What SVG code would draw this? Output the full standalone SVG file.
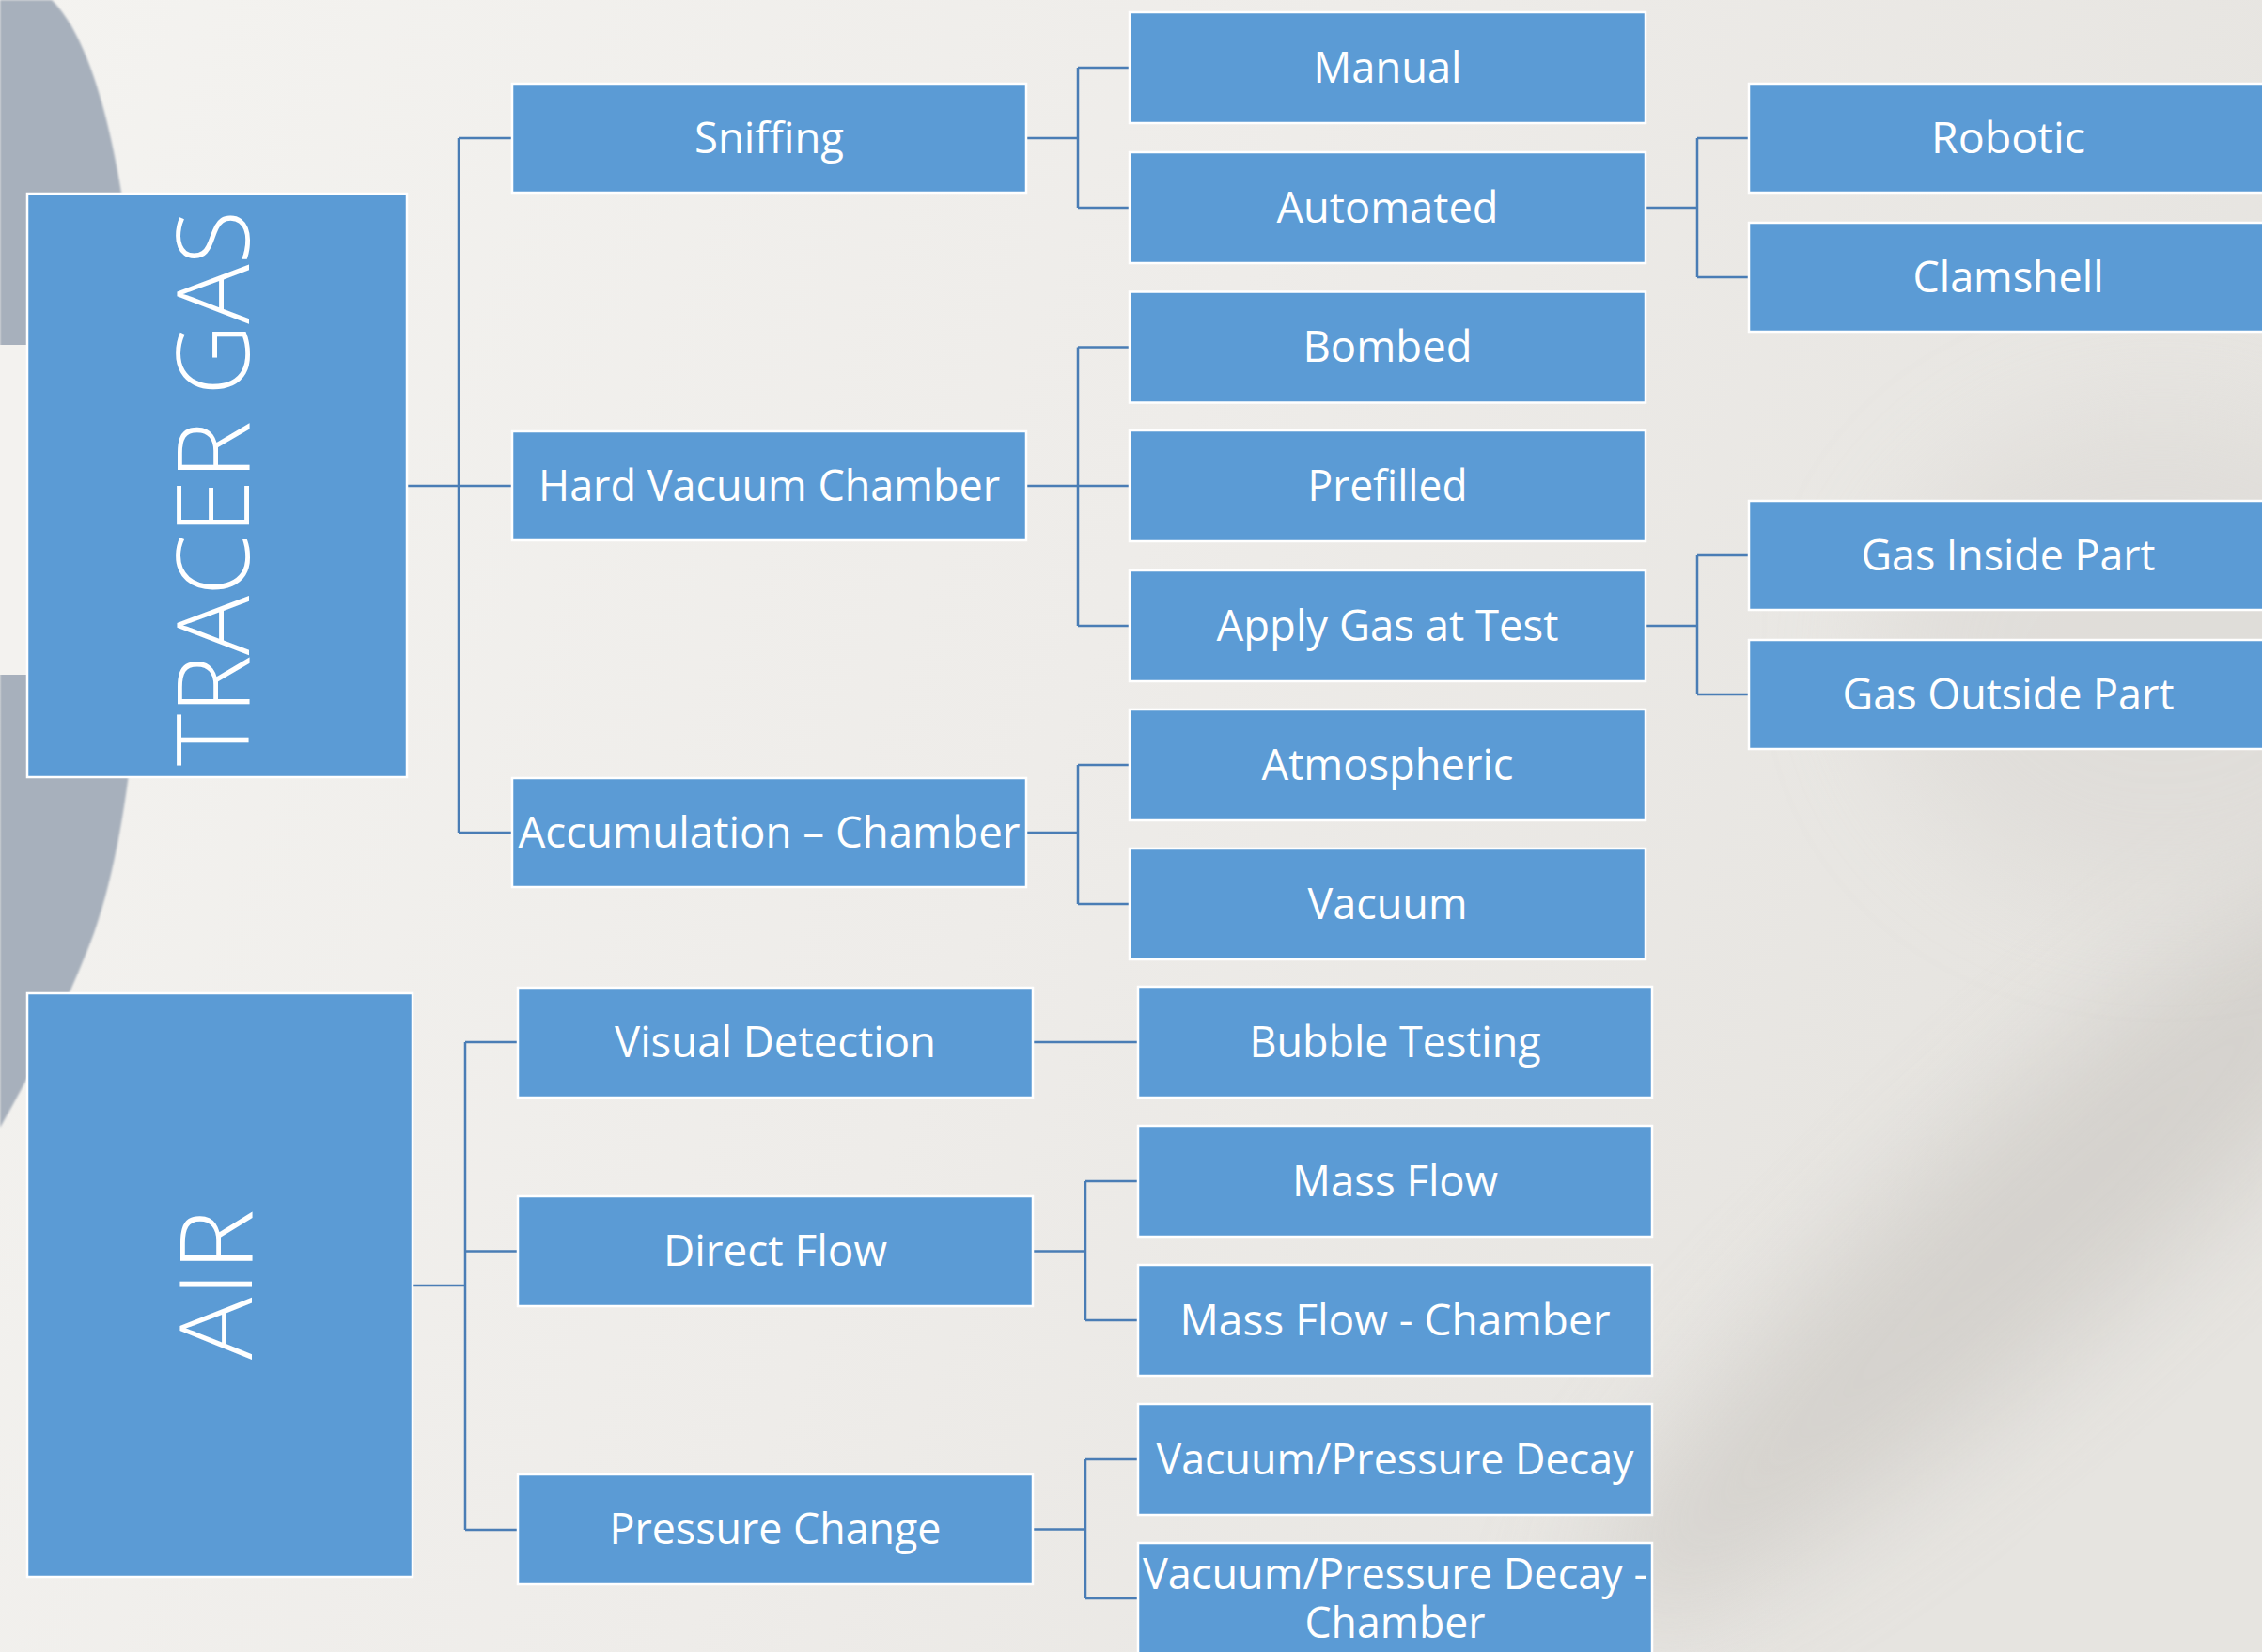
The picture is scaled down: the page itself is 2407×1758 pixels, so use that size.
<svg xmlns="http://www.w3.org/2000/svg" width="2407" height="1758" viewBox="0 0 2407 1758">
  <defs>
    <linearGradient id="bgGrad" x1="0" y1="0" x2="1" y2="0.3">
      <stop offset="0" stop-color="#f4f3f0"/>
      <stop offset="0.55" stop-color="#eeece9"/>
      <stop offset="1" stop-color="#e6e4e0"/>
    </linearGradient>
    <filter id="soft" x="-50%" y="-50%" width="200%" height="200%">
      <feGaussianBlur stdDeviation="60"/>
    </filter>
    <filter id="edge" x="-5%" y="-5%" width="110%" height="110%">
      <feGaussianBlur stdDeviation="1.2"/>
    </filter>
  </defs>
  <style>
    .box { fill: #5b9bd5; stroke: #ffffff; stroke-width: 2.5; }
    .lbl { font-family: "Open Sans", "Noto Sans", "Liberation Sans", sans-serif; font-size: 46px; fill: #ffffff; text-anchor: middle; }
    .big { font-family: "Open Sans", "Noto Sans", "Liberation Sans", sans-serif; font-size: 107px; font-weight: 300; fill: #ffffff; text-anchor: middle; }
    .link { fill: none; stroke: #4a7db5; stroke-width: 2.5; }
  </style>

  <!-- backdrop -->
  <rect x="0" y="0" width="2407" height="1758" fill="url(#bgGrad)"/>
  <ellipse cx="2180" cy="1290" rx="640" ry="120" transform="rotate(-42 2180 1290)" fill="#d2cfca" opacity="0.85" filter="url(#soft)"/>
  <ellipse cx="2300" cy="700" rx="300" ry="260" fill="#dcd9d5" opacity="0.6" filter="url(#soft)"/>
  <path d="M0 0 L55 0 C122 65 152 300 153 520 C154 700 140 880 100 993 C75 1060 40 1130 0 1200 Z" fill="#a7b0bc" filter="url(#edge)"/>
  <rect x="0" y="367" width="220" height="351" fill="#f3f2ef"/>

  <!-- connectors -->
  <g id="connectors" class="link">
    <path d="M433 517H545 M488 147V886 M488 147H545 M488 886H545"/>
    <path d="M1092 147H1147 M1147 72V221 M1147 72H1202 M1147 221H1202"/>
    <path d="M1092 517H1202 M1147 369.5V666 M1147 369.5H1202 M1147 666H1202"/>
    <path d="M1092 886H1147 M1147 814V962 M1147 814H1202 M1147 962H1202"/>
    <path d="M1751 221H1806 M1806 147V295 M1806 147H1861 M1806 295H1861"/>
    <path d="M1751 666H1806 M1806 591V739 M1806 591H1861 M1806 739H1861"/>
    <path d="M439 1368H495 M495 1109V1628 M495 1109H551 M495 1331.5H551 M495 1628H551"/>
    <path d="M1099 1109H1211"/>
    <path d="M1099 1331.5H1155 M1155 1257V1405 M1155 1257H1211 M1155 1405H1211"/>
    <path d="M1099 1627.5H1155 M1155 1553V1701 M1155 1553H1211 M1155 1701H1211"/>
  </g>

  <!-- root categories -->
  <g id="tracer-gas">
    <rect class="box" x="29" y="206" width="404" height="621"/>
    <text class="big" transform="translate(265 519.5) rotate(-90)" textLength="591" lengthAdjust="spacingAndGlyphs">TRACER GAS</text>
  </g>
  <g id="air">
    <rect class="box" x="29" y="1057" width="410" height="621"/>
    <text class="big" transform="translate(268 1367) rotate(-90)" textLength="160" lengthAdjust="spacingAndGlyphs">AIR</text>
  </g>

  <!-- tracer gas methods -->
  <g id="sniffing">
    <rect class="box" x="545" y="89" width="547" height="116"/>
    <text class="lbl" x="818.5" y="162.5" textLength="159" lengthAdjust="spacingAndGlyphs">Sniffing</text>
  </g>
  <g id="hard-vacuum-chamber">
    <rect class="box" x="545" y="459" width="547" height="116"/>
    <text class="lbl" x="818.5" y="532.5" textLength="491" lengthAdjust="spacingAndGlyphs">Hard Vacuum Chamber</text>
  </g>
  <g id="accumulation-chamber">
    <rect class="box" x="545" y="828" width="547" height="116"/>
    <text class="lbl" x="818.5" y="901.5" textLength="534" lengthAdjust="spacingAndGlyphs">Accumulation – Chamber</text>
  </g>

  <!-- tracer gas variants -->
  <g id="manual">
    <rect class="box" x="1202" y="13" width="549" height="118"/>
    <text class="lbl" x="1476.5" y="87.5" textLength="158" lengthAdjust="spacingAndGlyphs">Manual</text>
  </g>
  <g id="automated">
    <rect class="box" x="1202" y="162" width="549" height="118"/>
    <text class="lbl" x="1476.5" y="236.5" textLength="236" lengthAdjust="spacingAndGlyphs">Automated</text>
  </g>
  <g id="bombed">
    <rect class="box" x="1202" y="310.5" width="549" height="118"/>
    <text class="lbl" x="1476.5" y="385" textLength="180" lengthAdjust="spacingAndGlyphs">Bombed</text>
  </g>
  <g id="prefilled">
    <rect class="box" x="1202" y="458" width="549" height="118"/>
    <text class="lbl" x="1476.5" y="532.5" textLength="170" lengthAdjust="spacingAndGlyphs">Prefilled</text>
  </g>
  <g id="apply-gas-at-test">
    <rect class="box" x="1202" y="607" width="549" height="118"/>
    <text class="lbl" x="1476.5" y="681.5" textLength="364" lengthAdjust="spacingAndGlyphs">Apply Gas at Test</text>
  </g>
  <g id="atmospheric">
    <rect class="box" x="1202" y="755" width="549" height="118"/>
    <text class="lbl" x="1476.5" y="829.5" textLength="268" lengthAdjust="spacingAndGlyphs">Atmospheric</text>
  </g>
  <g id="vacuum">
    <rect class="box" x="1202" y="903" width="549" height="118"/>
    <text class="lbl" x="1476.5" y="977.5" textLength="170" lengthAdjust="spacingAndGlyphs">Vacuum</text>
  </g>

  <!-- automation and gas placement -->
  <g id="robotic">
    <rect class="box" x="1861" y="89" width="550" height="116"/>
    <text class="lbl" x="2137" y="162.5" textLength="164" lengthAdjust="spacingAndGlyphs">Robotic</text>
  </g>
  <g id="clamshell">
    <rect class="box" x="1861" y="237" width="550" height="116"/>
    <text class="lbl" x="2137" y="310.5" textLength="203" lengthAdjust="spacingAndGlyphs">Clamshell</text>
  </g>
  <g id="gas-inside-part">
    <rect class="box" x="1861" y="533" width="550" height="116"/>
    <text class="lbl" x="2137" y="606.5" textLength="313" lengthAdjust="spacingAndGlyphs">Gas Inside Part</text>
  </g>
  <g id="gas-outside-part">
    <rect class="box" x="1861" y="681" width="550" height="116"/>
    <text class="lbl" x="2137" y="754.5" textLength="353" lengthAdjust="spacingAndGlyphs">Gas Outside Part</text>
  </g>

  <!-- air methods -->
  <g id="visual-detection">
    <rect class="box" x="551" y="1051" width="548" height="117"/>
    <text class="lbl" x="825" y="1125" textLength="342" lengthAdjust="spacingAndGlyphs">Visual Detection</text>
  </g>
  <g id="direct-flow">
    <rect class="box" x="551" y="1273" width="548" height="117"/>
    <text class="lbl" x="825" y="1347" textLength="238" lengthAdjust="spacingAndGlyphs">Direct Flow</text>
  </g>
  <g id="pressure-change">
    <rect class="box" x="551" y="1569" width="548" height="117"/>
    <text class="lbl" x="825" y="1643" textLength="353" lengthAdjust="spacingAndGlyphs">Pressure Change</text>
  </g>

  <!-- air variants -->
  <g id="bubble-testing">
    <rect class="box" x="1211" y="1050" width="547" height="118"/>
    <text class="lbl" x="1484.5" y="1124.5" textLength="310" lengthAdjust="spacingAndGlyphs">Bubble Testing</text>
  </g>
  <g id="mass-flow">
    <rect class="box" x="1211" y="1198" width="547" height="118"/>
    <text class="lbl" x="1484.5" y="1272.5" textLength="219" lengthAdjust="spacingAndGlyphs">Mass Flow</text>
  </g>
  <g id="mass-flow-chamber">
    <rect class="box" x="1211" y="1346" width="547" height="118"/>
    <text class="lbl" x="1484.5" y="1420.5" textLength="458" lengthAdjust="spacingAndGlyphs">Mass Flow - Chamber</text>
  </g>
  <g id="vacuum-pressure-decay">
    <rect class="box" x="1211" y="1494" width="547" height="118"/>
    <text class="lbl" x="1484.5" y="1568.5" textLength="508" lengthAdjust="spacingAndGlyphs">Vacuum/Pressure Decay</text>
  </g>
  <g id="vacuum-pressure-decay-chamber">
    <rect class="box" x="1211" y="1642" width="547" height="118"/>
    <text class="lbl" x="1484.5" y="1690.5" textLength="537" lengthAdjust="spacingAndGlyphs">Vacuum/Pressure Decay -</text>
    <text class="lbl" x="1484.5" y="1743" textLength="192" lengthAdjust="spacingAndGlyphs">Chamber</text>
  </g>
</svg>
